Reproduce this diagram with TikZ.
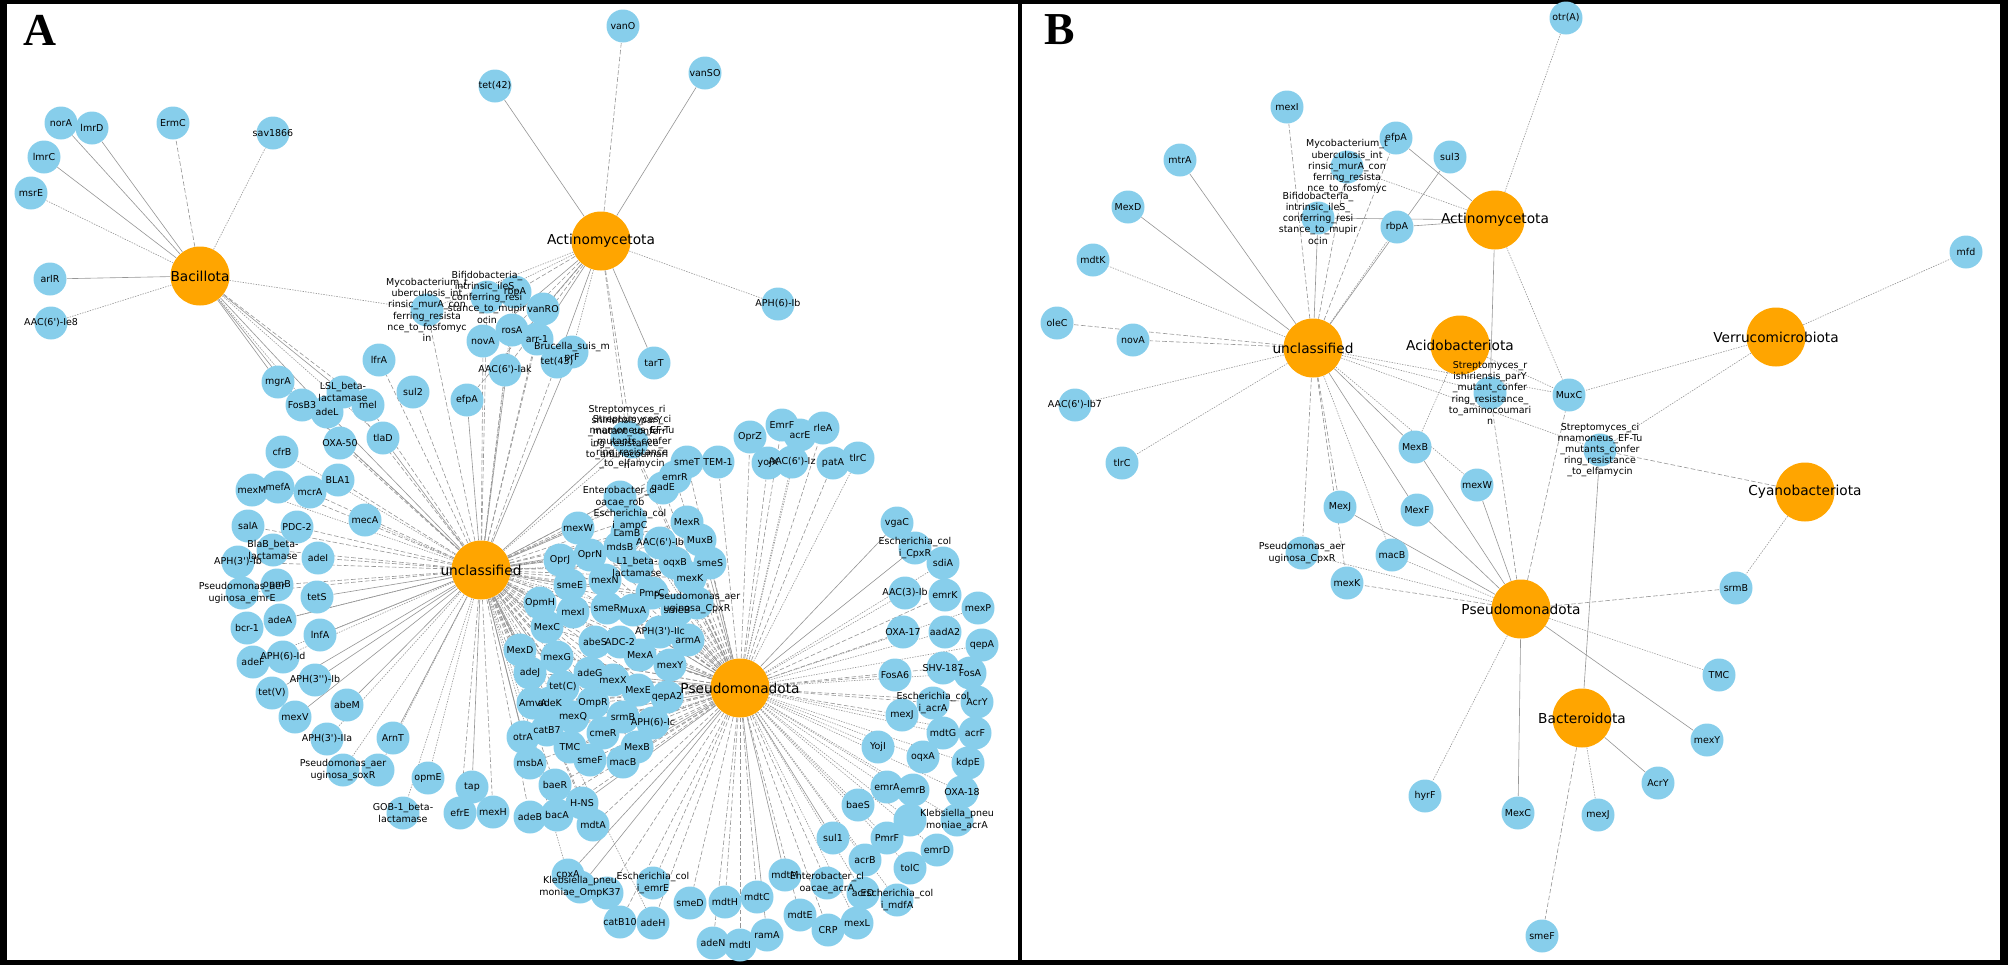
\documentclass[tikz,border=0pt]{standalone}
\usepackage{fontspec}
\setmainfont{DejaVu Sans}[Ligatures=TeXOff]
\newfontfamily\panelfont{Liberation Serif}
\usetikzlibrary{shapes.geometric}
\definecolor{cGene}{RGB}{135,206,235}
\definecolor{cPhylum}{RGB}{255,165,0}
\definecolor{cLink}{RGB}{150,150,150}
\pgfdeclarelayer{edges}
\pgfdeclarelayer{labels}
\pgfsetlayers{edges,main,labels}
\tikzset{
  gene/.style={circle, fill=cGene, minimum size=6.6mm, inner sep=0pt},
  phylum/.style={circle, fill=cPhylum, minimum size=11.8mm, inner sep=0pt},
  genelab/.style={align=center, inner sep=0pt, font=\fontsize{5.4}{6.4}\selectfont},
  phylab/.style={inner sep=0pt, font=\fontsize{7.8}{8}\selectfont},
  panel/.style={font=\panelfont\bfseries\fontsize{26}{26}\selectfont},
  lns/.style={draw=cLink, line width=0.35pt},
  lnd/.style={lns, dash pattern=on 2.6pt off 1.3pt},
  lnf/.style={lns, dash pattern=on 0.8pt off 0.7pt},
}

\begin{document}
\begin{tikzpicture}[x=0.2mm,y=-0.2mm]
\useasboundingbox (0,0) rectangle (2008,965);

% ===== frame =====
\fill (0,0) rectangle (2008,4);
\fill (0,960) rectangle (2008,965);
\fill (0,0) rectangle (7,965);
\fill (2000,0) rectangle (2008,965);
\fill (1018,0) rectangle (1022,965);
\node[panel] (pA) at (40,30) {A};
\node[panel] (pB) at (1060,30) {B};

% ===== phyla (hubs) =====
\foreach \nm/\x/\y/\txt in {Ba/200/276/Bacillota, Ac/601/241/Actinomycetota,
    Un/481/570/unclassified, Ps/740/688/Pseudomonadota,
    bAc/1495/220/Actinomycetota, bUn/1313/348/unclassified,
    bAd/1460/345/Acidobacteriota, bVe/1776/337/Verrucomicrobiota,
    bCy/1805/492/Cyanobacteriota, bPs/1521/609/Pseudomonadota,
    bBt/1582/718/Bacteroidota}{
  \node[phylum] (\nm) at (\x,\y) {};
  \begin{pgfonlayer}{labels}\node[phylab] at (\nm) {\txt};\end{pgfonlayer}
}

% ===== genes: name/x/y/label/{hub/line} =====
\foreach \nm/\x/\y/\txt/\hubs in {
  % --- panel A, Bacillota ---
  a1/61/123/norA/{Ba/s}, a2/92/128/lmrD/{Ba/s}, a3/44/157/lmrC/{Ba/s},
  a4/31/193/msrE/{Ba/f}, a5/173/123/ErmC/{Ba/d}, a6/273/133/sav1866/{Ba/f},
  a7/50/279/arlR/{Ba/s}, a8/51/323/{AAC(6')-Ie8}/{Ba/f},
  % --- panel A, Actinomycetota ---
  a9/623/26/vanO/{Ac/d}, a10/495/86/tet(42)/{Ac/s}, a11/705/73/vanSO/{Ac/s},
  a12/778/304/{APH(6)-Ib}/{Ac/f}, a13/654/363/tarT/{Ac/s},
  % --- panel A, top cluster ---
  a14/427/310/{Mycobacterium\_t\\uberculosis\_int\\rinsic\_murA\_con\\ferring\_resista\\nce\_to\_fosfomyc\\in}/{Ba/f,Ac/f,Un/d},
  a15/487/297/{Bifidobacteria\_\\intrinsic\_ileS\_\\conferring\_resi\\stance\_to\_mupir\\ocin}/{Ac/f,Un/d},
  a186/515/292/rbpA/{Ac/d,Un/f},
  a16/543/309/vanRO/{Ac/s,Un/d}, a17/483/341/novA/{Ac/s,Un/d},
  a18/512/330/rosA/{Ac/d,Un/s}, a19/537/339/arr-1/{Ac/s,Un/d},
  a20/572/352/{Brucella\_suis\_m\\prF}/{Ac/f,Un/s}, a21/557/362/tet(43)/{Ac/s,Un/d},
  a22/505/370/{AAC(6')-Iak}/{Ac/d,Un/d}, a23/379/360/lfrA/{Un/d},
  a24/413/392/sul2/{Un/d}, a25/467/400/efpA/{Ac/d,Un/s},
  a26/627/437/{Streptomyces\_ri\\shiriensis\_parY\\\_mutant\_conferr\\ing\_resistance\_\\to\_aminocoumari\\n}/{Ac/d,Un/s,Ps/d},
  a27/632/442/{Streptomyces\_ci\\nnamoneus\_EF-Tu\\\_mutants\_confer\\ring\_resistance\\\_to\_elfamycin}/{Ac/d,Un/f,Ps/d},
  % --- panel A, left arc ---
  a28/278/382/mgrA/{Ba/s,Un/s}, a29/343/392/{LSL\_beta-\\lactamase}/{Ba/s,Un/d},
  a30/302/405/FosB3/{Ba/s,Un/d}, a31/327/412/adeL/{Ba/s,Un/s},
  a32/368/405/mel/{Ba/d,Un/d}, a33/383/438/tlaD/{Ba/f,Un/s},
  a34/340/443/OXA-50/{Ba/f,Un/d}, a35/282/452/cfrB/{Un/f},
  a36/338/480/BLA1/{Un/d}, a37/252/490/mexM/{Un/f}, a38/278/487/mefA/{Un/d},
  a39/310/492/mcrA/{Un/d}, a40/365/520/mecA/{Un/f}, a41/248/526/salA/{Un/d},
  a42/297/527/PDC-2/{Un/d}, a43/273/550/{BlaB\_beta-\\lactamase}/{Un/d},
  a44/238/562/{APH(3')-Ib}/{Un/d}, a45/318/558/adeI/{Un/d},
  a46/277/585/opmB/{Un/d}, a47/242/593/{Pseudomonas\_aer\\uginosa\_emrE}/{Un/d},
  a48/317/597/tetS/{Un/s}, a49/280/620/adeA/{Un/s}, a50/247/628/bcr-1/{Un/f},
  a51/320/635/lnfA/{Un/s}, a52/253/662/adeF/{Un/f}, a53/283/657/{APH(6)-Id}/{Un/f},
  a54/315/680/{APH(3'')-Ib}/{Un/s}, a55/272/693/tet(V)/{Un/s},
  a56/347/705/abeM/{Un/s}, a57/295/717/mexV/{Un/s},
  a58/327/739/{APH(3')-IIa}/{Un/f}, a59/393/738/ArnT/{Un/s},
  a60/343/770/{Pseudomonas\_aer\\uginosa\_soxR}/{Un/f}, a61/378/770/{}/{Un/f},
  a62/428/778/opmE/{Un/f}, a63/472/787/tap/{Un/s},
  a64/403/813/{GOB-1\_beta-\\lactamase}/{Un/f}, a65/460/813/efrE/{Un/d},
  a66/493/812/mexH/{Un/d},
  % --- panel A, central cluster ---
  a67/675/477/emrR/{Un/d,Ps/d}, a68/663/488/gadE/{Un/d,Ps/d},
  a69/620/497/{Enterobacter\_cl\\oacae\_rob}/{Un/s,Ps/d},
  a70/630/520/{Escherichia\_col\\i\_ampC}/{Un/d,Ps/f},
  a71/578/528/mexW/{Un/s,Ps/d}, a72/627/533/LamB/{Un/d,Ps/d},
  a73/687/522/MexR/{Un/d,Ps/d}, a74/660/543/{AAC(6')-Ib}/{Un/f,Ps/d},
  a75/700/540/MuxB/{Un/d,Ps/s}, a76/620/547/mdsB/{Un/s,Ps/d},
  a77/560/560/OprJ/{Un/s,Ps/d}, a78/590/555/OprN/{Un/d,Ps/d},
  a79/637/567/{L1\_beta-\\lactamase}/{Un/d,Ps/s},
  a80/675/563/oqxB/{Un/f,Ps/d}, a81/710/563/smeS/{Un/d,Ps/s},
  a82/690/578/mexK/{Un/d,Ps/d}, a83/570/585/smeE/{Un/s,Ps/d},
  a84/605/580/mexN/{Un/d,Ps/f},
  a85/697/603/{Pseudomonas\_aer\\uginosa\_CpxR}/{Un/d,Ps/s},
  a86/652/593/PmrC/{Un/d,Ps/d}, a87/540/603/OpmH/{Un/s,Ps/d},
  a88/573/612/mexI/{Un/d,Ps/d}, a89/607/608/smeR/{Un/d,Ps/s},
  a90/633/610/MuxA/{Un/f,Ps/d}, a91/677/610/smeB/{Un/d,Ps/d},
  a92/547/627/MexC/{Un/s,Ps/d}, a93/595/642/abeS/{Un/d,Ps/d},
  a94/620/642/ADC-2/{Un/d,Ps/s}, a95/660/632/{APH(3')-IIc}/{Un/f,Ps/d},
  a96/688/640/armA/{Un/d,Ps/s}, a97/520/650/MexD/{Un/s,Ps/d},
  a98/557/657/mexG/{Un/d,Ps/d}, a99/640/655/MexA/{Un/d,Ps/s},
  a100/670/665/mexY/{Un/f,Ps/d}, a101/530/673/adeJ/{Un/d,Ps/d},
  a102/590/673/adeG/{Un/d,Ps/s}, a103/613/680/mexX/{Un/d,Ps/d},
  a104/563/687/tet(C)/{Un/s,Ps/d}, a105/638/690/MexE/{Un/d,Ps/d},
  a106/667/697/qepA2/{Un/d,Ps/f}, a107/533/703/AmvA/{Un/d,Ps/d},
  a108/550/703/adeK/{Un/s,Ps/d}, a109/593/703/OmpR/{Un/d,Ps/d},
  a110/573/717/mexQ/{Un/d,Ps/s}, a111/623/717/srmB/{Un/d,Ps/d},
  a112/653/723/{APH(6)-Ic}/{Un/f,Ps/d}, a113/547/730/catB7/{Un/d,Ps/d},
  a114/523/737/otrA/{Un/s,Ps/d}, a115/603/733/cmeR/{Un/d,Ps/f},
  a116/570/747/TMC/{Un/d,Ps/d}, a117/637/747/MexB/{Un/d,Ps/s},
  a118/590/760/smeF/{Un/f,Ps/d}, a119/623/762/macB/{Un/d,Ps/d},
  a120/530/763/msbA/{Un/s,Ps/d}, a121/555/785/baeR/{Un/d,Ps/d},
  a122/582/803/H-NS/{Un/d,Ps/s}, a123/530/817/adeB/{Un/d,Ps/d},
  a124/557/815/bacA/{Un/f,Ps/d}, a125/593/825/mdtA/{Un/d,Ps/d},
  % --- panel A, upper right of Pseudomonadota ---
  a126/750/437/OprZ/{Ps/d}, a127/782/425/EmrF/{Ps/d}, a128/800/435/acrE/{Ps/f},
  a129/823/428/rleA/{Ps/d}, a130/768/463/yojX/{Ps/d},
  a131/792/462/{AAC(6')-Iz}/{Ps/f}, a132/833/463/patA/{Ps/d},
  a133/858/458/tlrC/{Ps/f}, a134/687/462/smeT/{Ps/d,Un/d},
  a135/718/462/TEM-1/{Ps/d,Un/f},
  % --- panel A, right arc ---
  a136/897/523/vgaC/{Ps/s}, a137/915/548/{Escherichia\_col\\i\_CpxR}/{Ps/s},
  a138/943/563/sdiA/{Ps/f}, a139/905/593/{AAC(3)-Ib}/{Ps/f},
  a140/945/595/emrK/{Ps/d}, a141/978/608/mexP/{Ps/f},
  a142/903/632/OXA-17/{Ps/d}, a143/945/632/aadA2/{Ps/f}, a144/982/645/qepA/{Ps/f},
  a145/895/675/FosA6/{Ps/d}, a146/943/668/SHV-187/{Ps/d}, a147/970/673/FosA/{Ps/f},
  a148/933/703/{Escherichia\_col\\i\_acrA}/{Ps/d}, a149/977/702/AcrY/{Ps/d},
  a150/902/715/mexJ/{Ps/d}, a151/943/733/mdtG/{Ps/f}, a152/975/733/acrF/{Ps/f},
  a153/878/747/YojI/{Ps/f}, a154/923/757/oqxA/{Ps/f}, a155/968/763/kdpE/{Ps/f},
  a156/887/787/emrA/{Ps/f}, a157/913/790/emrB/{Ps/f}, a158/962/792/OXA-18/{Ps/f},
  a159/858/805/baeS/{Ps/f}, a160/957/820/{Klebsiella\_pneu\\moniae\_acrA}/{Ps/f},
  a161/910/820/{}/{Ps/f}, a162/833/838/sul1/{Ps/s}, a163/887/838/PmrF/{Ps/f},
  a164/865/860/acrB/{Ps/f}, a165/937/850/emrD/{Ps/f}, a166/910/868/tolC/{Ps/f},
  a167/897/900/{Escherichia\_col\\i\_mdfA}/{Ps/f}, a168/863/893/acrD/{Ps/f},
  a169/857/923/mexL/{Ps/f}, a170/828/930/CRP/{Ps/d}, a171/800/915/mdtE/{Ps/d},
  a172/827/883/{Enterobacter\_cl\\oacae\_acrA}/{Ps/d}, a173/785/875/mdtM/{Ps/s},
  % --- panel A, bottom arc ---
  a174/767/935/ramA/{Ps/s}, a175/740/945/mdtI/{Ps/d}, a176/713/943/adeN/{Ps/d},
  a177/757/897/mdtC/{Ps/d}, a178/725/902/mdtH/{Ps/d}, a179/690/903/smeD/{Ps/d},
  a180/653/923/adeH/{Ps/d,Un/f}, a181/620/922/catB10/{Ps/d},
  a182/653/883/{Escherichia\_col\\i\_emrE}/{Ps/d},
  a183/580/887/{Klebsiella\_pneu\\moniae\_OmpK37}/{Ps/s}, a184/607/893/{}/{Ps/d},
  a185/568/875/cpxA/{Ps/s,Un/f},
  % --- panel B ---
  b1/1566/18/otr(A)/{bAc/f}, b2/1287/107/mexI/{bUn/d},
  b3/1347/167/{Mycobacterium\_t\\uberculosis\_int\\rinsic\_murA\_con\\ferring\_resista\\nce\_to\_fosfomyc}/{bUn/d,bAc/f},
  b4/1396/138/efpA/{bUn/d,bAc/s}, b5/1450/157/sul3/{bUn/s},
  b6/1180/160/mtrA/{bUn/s}, b7/1128/207/MexD/{bUn/s},
  b8/1318/218/{Bifidobacteria\_\\intrinsic\_ileS\_\\conferring\_resi\\stance\_to\_mupir\\ocin}/{bUn/s,bAc/s},
  b9/1397/227/rbpA/{bUn/f,bAc/s}, b10/1093/260/mdtK/{bUn/f},
  b11/1057/323/oleC/{bUn/d}, b12/1133/340/novA/{bUn/d},
  b13/1075/405/{AAC(6')-Ib7}/{bUn/f}, b14/1122/463/tlrC/{bUn/f},
  b15/1490/393/{Streptomyces\_r\\ishiriensis\_parY\\\_mutant\_confer\\ring\_resistance\_\\to\_aminocoumari\\n}/{bUn/f,bAc/s,bPs/d},
  b16/1569/395/MuxC/{bUn/f,bAc/f,bAd/f,bVe/f,bPs/d},
  b17/1600/450/{Streptomyces\_ci\\nnamoneus\_EF-Tu\\\_mutants\_confer\\ring\_resistance\\\_to\_elfamycin}/{bUn/f,bVe/f,bCy/d,bBt/s},
  b18/1966/252/mfd/{bVe/f}, b19/1415/447/MexB/{bUn/s,bAd/f,bPs/s},
  b20/1477/485/mexW/{bUn/f,bPs/s}, b21/1340/507/MexJ/{bUn/d,bPs/s},
  b22/1417/510/MexF/{bUn/s,bPs/s},
  b23/1302/553/{Pseudomonas\_aer\\uginosa\_CpxR}/{bUn/d,bPs/f},
  b24/1392/555/macB/{bUn/f,bPs/f}, b25/1347/583/mexK/{bUn/d,bPs/d},
  b26/1736/588/srmB/{bPs/d,bCy/f}, b27/1719/675/TMC/{bPs/f},
  b28/1707/740/mexY/{bPs/s}, b29/1658/783/AcrY/{bBt/s},
  b30/1598/815/mexJ/{bBt/f}, b31/1518/813/MexC/{bPs/s},
  b32/1425/796/hyrF/{bPs/f}, b33/1542/936/smeF/{bBt/d}}{
  \node[gene] (\nm) at (\x,\y) {};
  \begin{pgfonlayer}{labels}\node[genelab] at (\nm) {\txt};\end{pgfonlayer}
  \begin{pgfonlayer}{edges}
    \foreach \hb/\st in \hubs {\draw[ln\st] (\hb) -- (\nm);}
  \end{pgfonlayer}
}

\end{tikzpicture}
\end{document}
